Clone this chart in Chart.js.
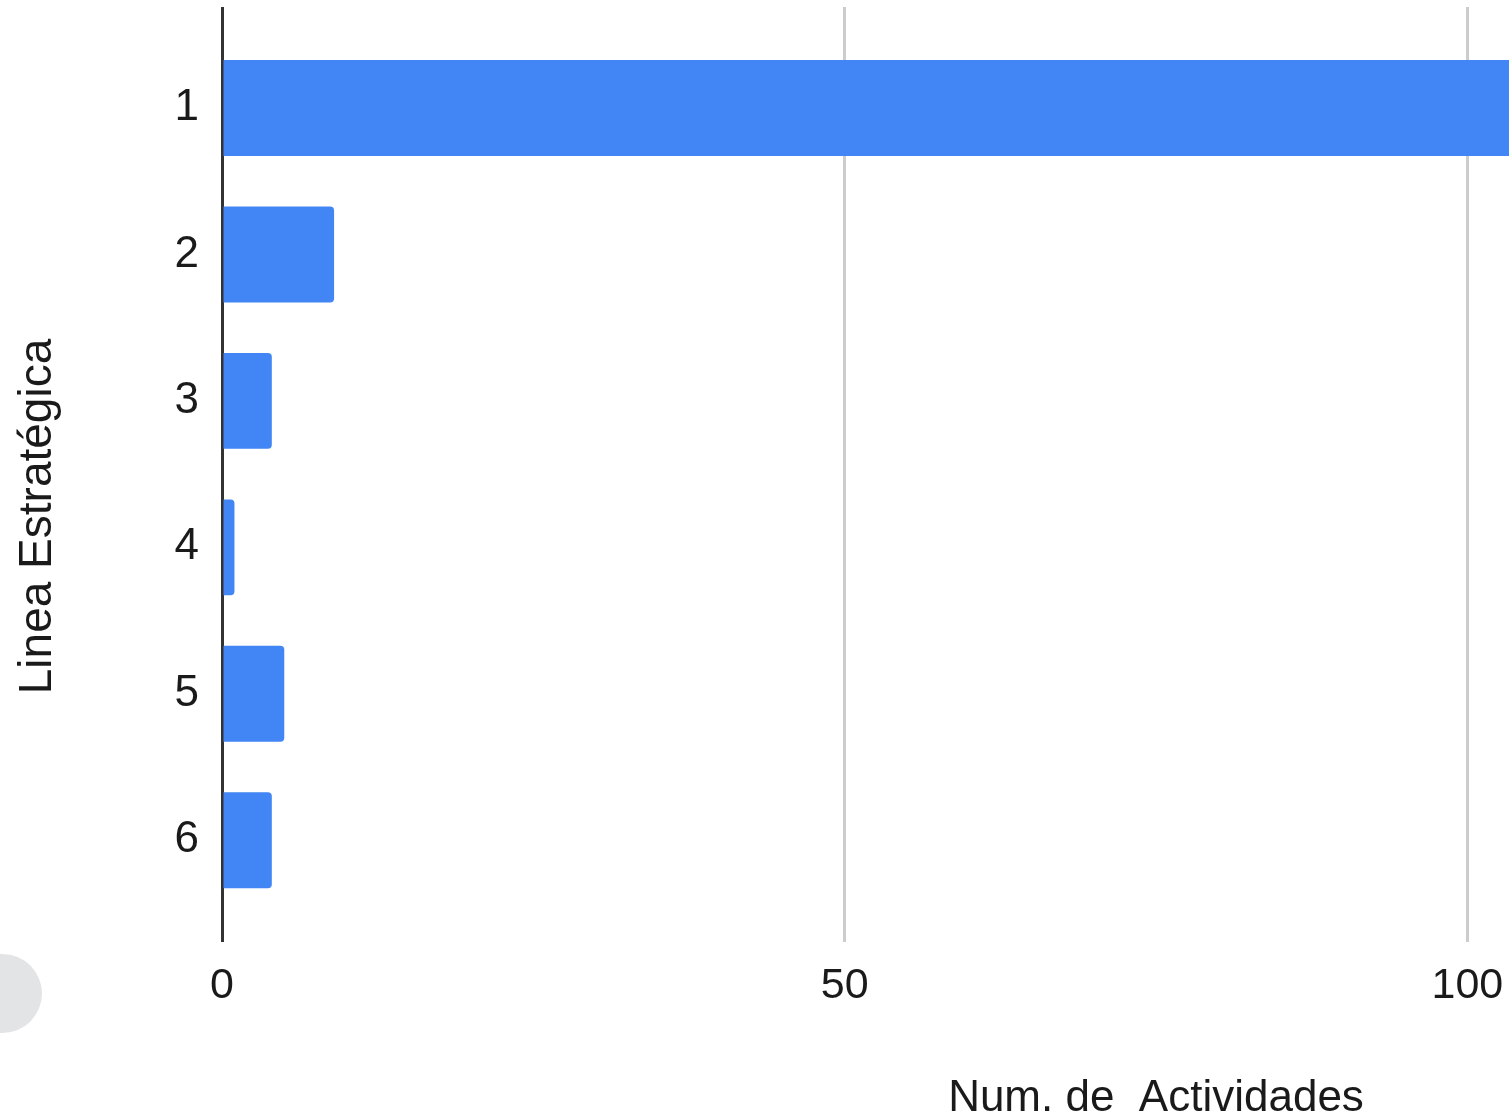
<!DOCTYPE html>
<html>
<head>
<meta charset="utf-8">
<script src="https://cdn.jsdelivr.net/npm/chart.js@4"></script>
<style>
  body { margin: 0; overflow: hidden; background: #fff; }
  #wrap { position: relative; width: 1509px; height: 1118px; overflow: hidden; }
  #dot { position: absolute; left: -37px; top: 954px; width: 79px; height: 79px; border-radius: 50%; background: #e3e4e6; }
</style>
</head>
<body>
<div id="wrap">
  <canvas id="barChart" width="2150" height="1118"></canvas>
  <div id="dot"></div>
</div>
<script>
const categories = ['1', '2', '3', '4', '5', '6'];
const actividades = [110, 9, 4, 1, 5, 4];
const xTitle = 'Num. de  Actividades';
const yTitle = 'Linea Estratégica';

Chart.defaults.font.family = "'Liberation Sans', Arial, sans-serif";
Chart.defaults.color = '#1a1a1a';

// y axis title drawn a bit below the plot centre, like the original
const yTitlePlugin = {
    id: 'yTitle',
    afterDraw(chart) {
        const { ctx, chartArea } = chart;
        ctx.save();
        ctx.font = "46px 'Liberation Sans', Arial, sans-serif";
        ctx.fillStyle = '#1a1a1a';
        ctx.textAlign = 'center';
        ctx.textBaseline = 'middle';
        ctx.translate(38, (chartArea.top + chartArea.bottom) / 2 + 42);
        ctx.rotate(-Math.PI / 2);
        ctx.fillText(yTitle, 0, 0);
        ctx.restore();
    }
};

const barChartContext = document.getElementById('barChart').getContext('2d');

const barChart = new Chart(barChartContext, {
    type: 'bar',
    data: {
        datasets: [{
            data: actividades.map((v, i) => ({ x: v, y: i + 1 })),
            backgroundColor: '#4285f4',
            borderWidth: 0,
            borderRadius: 4,
            barPercentage: 0.655,
            categoryPercentage: 1
        }]
    },
    options: {
        indexAxis: 'y',
        responsive: false,
        animation: false,
        layout: {
            padding: { top: 7, right: 60, left: 0, bottom: 0 }
        },
        plugins: {
            legend: { display: false },
            tooltip: { enabled: false }
        },
        scales: {
            x: {
                type: 'linear',
                min: 0,
                max: 150,
                afterFit: (scale) => { scale.height = 176; },
                ticks: {
                    stepSize: 50,
                    padding: 18,
                    font: { size: 43 },
                    color: '#1a1a1a'
                },
                grid: {
                    drawTicks: false,
                    lineWidth: 3,
                    color: (ctx) => ctx.tick && ctx.tick.value === 0 ? '#333333' : '#cccccc'
                },
                border: { display: false },
                title: {
                    display: true,
                    text: xTitle,
                    font: { size: 44, lineHeight: 1 },
                    padding: { top: 0, bottom: -3 },
                    color: '#1a1a1a'
                }
            },
            y: {
                type: 'linear',
                reverse: true,
                offset: false,
                bounds: 'data',
                min: 0.31,
                max: 6.695,
                afterFit: (scale) => {
                    scale.width = 222;
                    scale.paddingTop = 0;
                    scale.paddingBottom = 0;
                },
                afterBuildTicks: (scale) => {
                    scale.ticks = categories.map((c, i) => ({ value: i + 1 }));
                },
                ticks: {
                    padding: 15,
                    font: { size: 44 },
                    color: '#1a1a1a',
                    callback: (value) => categories[value - 1]
                },
                grid: { display: false, offset: false },
                border: { display: false }
            }
        }
    },
    plugins: [yTitlePlugin]
});
</script>
</body>
</html>
